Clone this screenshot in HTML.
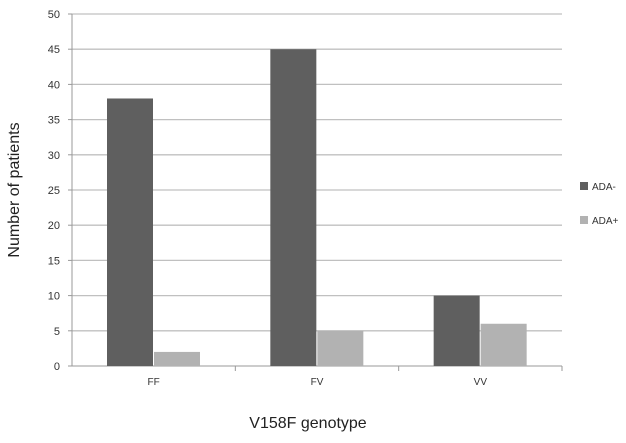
<!DOCTYPE html>
<html><head><meta charset="utf-8"><style>
body{margin:0;background:#fff;width:626px;height:438px;overflow:hidden;font-family:"Liberation Sans",sans-serif}
</style></head><body>
<svg id="c" width="626" height="438"></svg>
<script>
const categories=["FF","FV","VV"];
const adaMinus=[38,45,10];
const adaPlus=[2,5,6];
const yTicks=[0,5,10,15,20,25,30,35,40,45,50];
const NS="http://www.w3.org/2000/svg";
const svg=document.getElementById('c');
const L=72,R=562,T=14,B=366,ymax=50;
const cw=(R-L)/categories.length;
const y=v=>B-(v/ymax)*(B-T);
const x=i=>L+i*cw;
function mk(t,a,txt){const e=document.createElementNS(NS,t);for(const k in a)e.setAttribute(k,a[k]);if(txt!=null)e.textContent=txt;svg.appendChild(e);return e;}
yTicks.forEach(v=>{
 if(v>0){const g=mk('line',{x1:L,x2:R,y1:y(v),y2:y(v),stroke:'#c0c0c0','stroke-width':1.3});
 
 }
 const t=mk('text',{x:L-12,y:y(v)+4,'text-anchor':'end','font-size':11,fill:'#333'},v);
 
 
 const tk=mk('line',{x1:L-4,x2:L,y1:y(v),y2:y(v),stroke:'#999'});
 
 
});
const ya=mk('line',{x1:L,x2:L,y1:T,y2:B,stroke:'#999'});


const xa=mk('line',{x1:L,x2:R,y1:B,y2:B,stroke:'#999'});


const bw=46,off=35;
categories.forEach((c,i)=>{
 const b1=mk('rect',{x:x(i)+off,y:y(adaMinus[i]),width:bw,height:B-y(adaMinus[i]),fill:'#5f5f5f'});
 
 
 const b2=mk('rect',{x:x(i)+off+bw+1,y:y(adaPlus[i]),width:bw,height:B-y(adaPlus[i]),fill:'#b2b2b2'});
 
 
 const tk=mk('line',{x1:x(i+1),x2:x(i+1),y1:B,y2:B+5,stroke:'#999'});
 
 
 const t=mk('text',{x:x(i)+cw/2,y:B+19,'text-anchor':'middle','font-size':10,fill:'#333'},c);
 
 
});
const xt=mk('text',{x:308,y:428,'text-anchor':'middle','font-size':16,fill:'#222'},'V158F genotype');


const yt=mk('text',{x:0,y:0,'text-anchor':'middle','font-size':16,fill:'#222',transform:'translate(19,190) rotate(-90)'},'Number of patients');


[['ADA-','#5f5f5f',186],['ADA+','#b2b2b2',220]].forEach(([n,col,yy])=>{
 const s=mk('rect',{x:580,y:yy-4,width:8,height:8,fill:col});
 
 
 const t=mk('text',{x:592,y:yy+4,'font-size':10,fill:'#333'},n);
 
 
});
</script>
</body></html>
